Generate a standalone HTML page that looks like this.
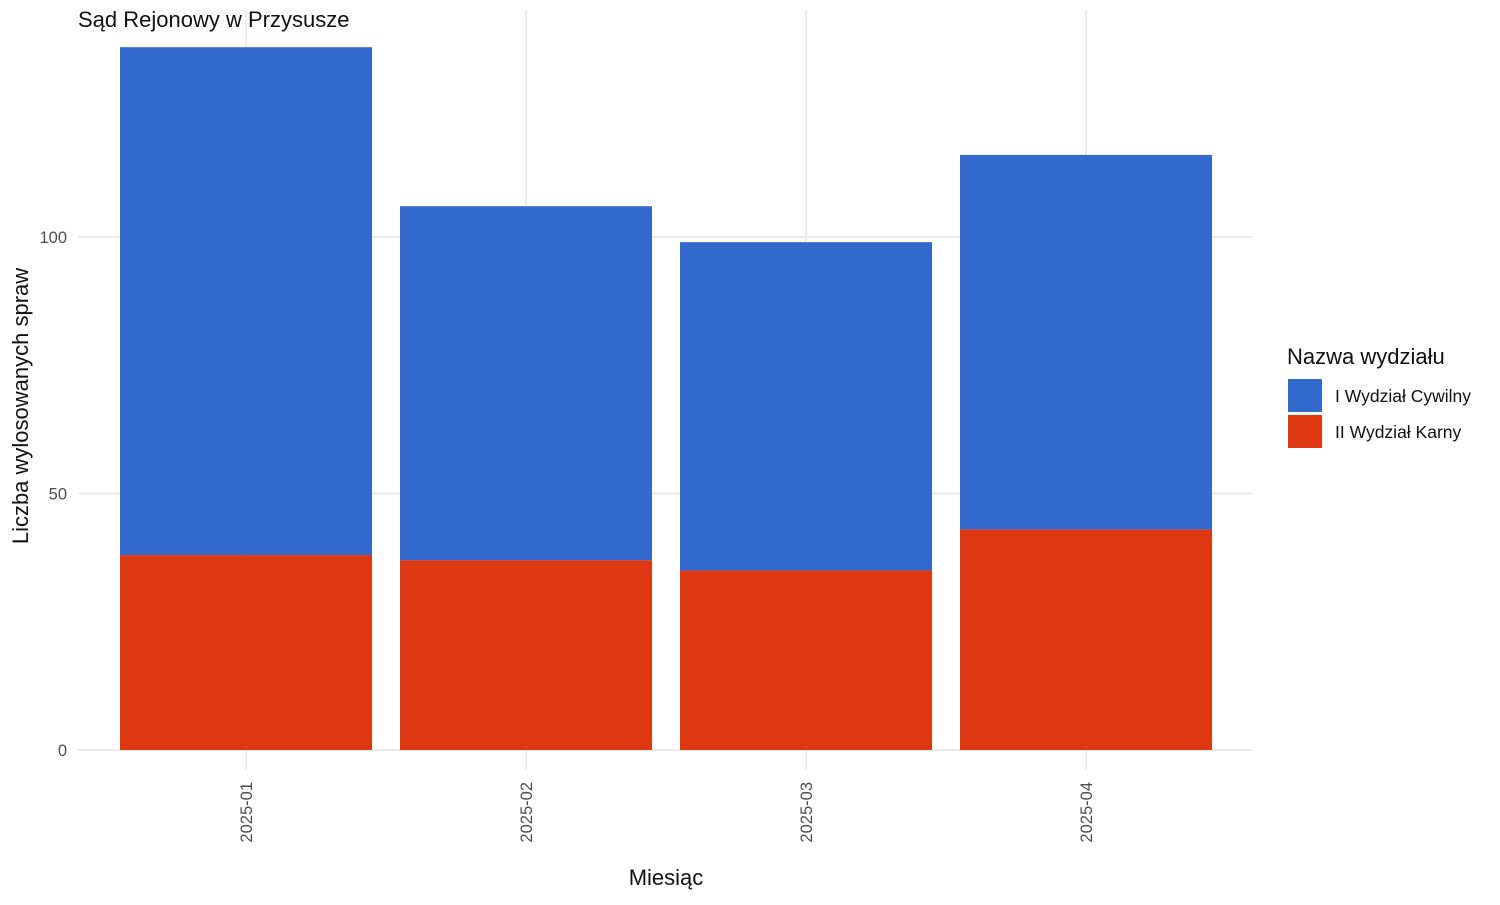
<!DOCTYPE html>
<html><head><meta charset="utf-8">
<style>
body{margin:0;background:#fff;font-family:"Liberation Sans",Arial,sans-serif;}
svg text{font-family:"Liberation Sans",Arial,sans-serif;}
</style></head>
<body>
<svg id="chart" width="1500" height="900" xmlns="http://www.w3.org/2000/svg">
<g id="grid"></g>
<g id="bars"></g>
<g id="axes"></g>
<text x="78" y="27" font-size="22" fill="#111">Sąd Rejonowy w Przysusze</text>
<text x="666" y="885" font-size="22" text-anchor="middle" fill="#111">Miesiąc</text>
<text transform="translate(28,406) rotate(-90)" font-size="22" text-anchor="middle" fill="#111">Liczba wylosowanych spraw</text>
<g>
<text x="1287" y="364" font-size="22" fill="#111">Nazwa wydziału</text>
<rect x="1288" y="379" width="34" height="33" fill="#3368cc"/>
<text x="1335" y="402" font-size="17.5" fill="#111">I Wydział Cywilny</text>
<rect x="1288" y="415" width="34" height="33" fill="#dd3812"/>
<text x="1335" y="438" font-size="17.5" fill="#111">II Wydział Karny</text>
</g>
</svg>
<script>
const categories = ["2025-01","2025-02","2025-03","2025-04"];
const karny = [38,37,35,43];
const cywilny = [99,69,64,73];
const yTicks = [0,50,100];
const NS="http://www.w3.org/2000/svg";
const x0=78,x1=1253,panelTop=10,panelBottom=770;
const yScale=v=>750-v*5.13;
const step=280, first=246, bw=252;
const xc=i=>first+i*step;
function mk(t,a,p){const e=document.createElementNS(NS,t);for(const k in a)e.setAttribute(k,a[k]);p.appendChild(e);return e;}
const grid=document.getElementById('grid'),bars=document.getElementById('bars'),axes=document.getElementById('axes');
yTicks.forEach(v=>{
  const l=mk('line',{x1:x0,x2:x1,y1:yScale(v),y2:yScale(v),stroke:'#ebebeb','stroke-width':2},grid);
  
  
  const t=mk('text',{x:67,y:yScale(v)+6,'font-size':16.5,'text-anchor':'end',fill:'#4d4d4d'},axes);
  t.textContent=v;
  
  
});
categories.forEach((c,i)=>{
  const l=mk('line',{x1:xc(i),x2:xc(i),y1:panelTop,y2:panelBottom,stroke:'#ebebeb','stroke-width':2},grid);
  
  
  const r1=mk('rect',{x:xc(i)-bw/2,y:yScale(karny[i]),width:bw,height:yScale(0)-yScale(karny[i]),fill:'#dd3812'},bars);
  
  
  const tot=karny[i]+cywilny[i];
  const r2=mk('rect',{x:xc(i)-bw/2,y:yScale(tot),width:bw,height:yScale(karny[i])-yScale(tot),fill:'#3368cc'},bars);
  
  
  const t=mk('text',{transform:`translate(${xc(i)+6},782) rotate(-90)`,'font-size':16.5,'text-anchor':'end',fill:'#4d4d4d'},axes);
  t.textContent=c;
  
  
});
</script>
</body></html>
